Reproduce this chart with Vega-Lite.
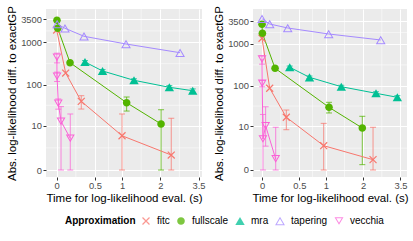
{
  "$schema": "https://vega.github.io/schema/vega-lite/v6.json",
  "padding": {"left": 6, "top": 5, "right": 3, "bottom": 0},
  "datasets": {
    "minx": [{"x": 0.2247}, {"x": 0.7321}, {"x": 1.4495}, {"x": 2.6742}],
    "miny": [{"y": 2.3165}, {"y": 32.33}, {"y": 317.0}, {"y": 1871.4}],
    "left": [
      {"approx": "fitc", "x": 0.0, "y": 1967, "lo": null, "hi": null},
      {"approx": "fitc", "x": 0.1, "y": 190, "lo": null, "hi": null},
      {"approx": "fitc", "x": 0.298, "y": 40.3, "lo": 26.2, "hi": 55},
      {"approx": "fitc", "x": 1.0, "y": 5.4, "lo": 0, "hi": 19.8},
      {"approx": "fitc", "x": 2.37, "y": 1.25, "lo": 0, "hi": 15.5},
      {"approx": "fullscale", "x": 0.003, "y": 3327, "lo": null, "hi": null},
      {"approx": "fullscale", "x": 0.011, "y": 2158, "lo": null, "hi": null},
      {"approx": "fullscale", "x": 0.152, "y": 334, "lo": null, "hi": null},
      {"approx": "fullscale", "x": 1.1, "y": 37.3, "lo": 23.4, "hi": 51.2},
      {"approx": "fullscale", "x": 2.025, "y": 11.1, "lo": 0, "hi": 25.2},
      {"approx": "mra", "x": 0.35, "y": 347, "lo": 320, "hi": 375},
      {"approx": "mra", "x": 0.626, "y": 213, "lo": 198, "hi": 230},
      {"approx": "mra", "x": 1.271, "y": 128, "lo": 118, "hi": 139},
      {"approx": "mra", "x": 2.303, "y": 87.3, "lo": 79, "hi": 96},
      {"approx": "mra", "x": 3.233, "y": 72.4, "lo": 64, "hi": 80},
      {"approx": "tapering", "x": 0.005, "y": 2723, "lo": null, "hi": null},
      {"approx": "tapering", "x": 0.092, "y": 2158, "lo": null, "hi": null},
      {"approx": "tapering", "x": 0.336, "y": 1399, "lo": null, "hi": null},
      {"approx": "tapering", "x": 1.086, "y": 921, "lo": null, "hi": null},
      {"approx": "tapering", "x": 2.7, "y": 574, "lo": null, "hi": null},
      {"approx": "vecchia", "x": 0.003, "y": 448, "lo": 330, "hi": 560},
      {"approx": "vecchia", "x": 0.004, "y": 159, "lo": 120, "hi": 200},
      {"approx": "vecchia", "x": 0.017, "y": 36.1, "lo": 26, "hi": 46},
      {"approx": "vecchia", "x": 0.047, "y": 13, "lo": 0, "hi": 30},
      {"approx": "vecchia", "x": 0.155, "y": 4.57, "lo": 0, "hi": 19.8}
    ],
    "right": [
      {"approx": "fitc", "x": 0.0, "y": 1367, "lo": null, "hi": null},
      {"approx": "fitc", "x": 0.087, "y": 87.2, "lo": null, "hi": null},
      {"approx": "fitc", "x": 0.302, "y": 17, "lo": 8.1, "hi": 25.8},
      {"approx": "fitc", "x": 0.954, "y": 2.79, "lo": 0, "hi": 11.9},
      {"approx": "fitc", "x": 2.34, "y": 0.76, "lo": 0, "hi": 9.4},
      {"approx": "fullscale", "x": 0.0, "y": 2943, "lo": null, "hi": null},
      {"approx": "fullscale", "x": 0.004, "y": 1797, "lo": null, "hi": null},
      {"approx": "fullscale", "x": 0.152, "y": 263, "lo": null, "hi": null},
      {"approx": "fullscale", "x": 1.07, "y": 30.1, "lo": 21.8, "hi": 39.9},
      {"approx": "fullscale", "x": 1.972, "y": 9, "lo": 0.34, "hi": 18},
      {"approx": "mra", "x": 0.351, "y": 278, "lo": 258, "hi": 298},
      {"approx": "mra", "x": 0.675, "y": 160, "lo": 149, "hi": 172},
      {"approx": "mra", "x": 1.366, "y": 95.2, "lo": 88, "hi": 103},
      {"approx": "mra", "x": 2.45, "y": 66, "lo": 60, "hi": 72},
      {"approx": "mra", "x": 3.35, "y": 52.8, "lo": 47, "hi": 58},
      {"approx": "tapering", "x": 0.0, "y": 4000, "lo": null, "hi": null},
      {"approx": "tapering", "x": 0.087, "y": 2991, "lo": null, "hi": null},
      {"approx": "tapering", "x": 0.322, "y": 2403, "lo": null, "hi": null},
      {"approx": "tapering", "x": 1.063, "y": 1729, "lo": null, "hi": null},
      {"approx": "tapering", "x": 2.63, "y": 1245, "lo": null, "hi": null},
      {"approx": "vecchia", "x": 0.0, "y": 438, "lo": 330, "hi": 520},
      {"approx": "vecchia", "x": 0.002, "y": 115, "lo": 95, "hi": 135},
      {"approx": "vecchia", "x": 0.01, "y": 4.47, "lo": 0, "hi": 20},
      {"approx": "vecchia", "x": 0.04, "y": 10.3, "lo": 2.7, "hi": 31},
      {"approx": "vecchia", "x": 0.16, "y": 0.83, "lo": 0, "hi": 9.4}
    ]
  },
  "spacing": 7,
  "resolve": {"scale": {"x": "independent", "y": "independent", "color": "shared", "shape": "shared"}},
  "hconcat": [
    {
      "width": 156,
      "height": 168,
      "data": {"name": "left"},
      "layer": [
        {
          "data": {"name": "minx"},
          "mark": {"type": "rule", "color": "#FFFFFF", "strokeWidth": 0.5},
          "encoding": {
            "x": {"field": "x", "type": "quantitative", "title": "Time for log-likelihood eval. (s)", "scale": {"type": "symlog", "constant": 1, "domain": [-0.12, 3.67], "nice": false, "zero": false}, "axis": {"values": [0, 0.5, 1, 2, 3.5], "format": ".2~g"}}
          }
        },
        {
          "data": {"name": "miny"},
          "mark": {"type": "rule", "color": "#FFFFFF", "strokeWidth": 0.5},
          "encoding": {
            "y": {"field": "y", "type": "quantitative", "title": "Abs. log-likelihood diff. to exactGP", "scale": {"type": "symlog", "constant": 1, "domain": [-0.46, 6137], "nice": false, "zero": false}, "axis": {"values": [0, 10, 100, 1000, 3500], "format": "d"}}
          }
        },
        {
          "transform": [{"filter": "datum.lo != null"}],
          "mark": {"type": "errorbar", "ticks": {"size": 6}, "thickness": 1, "opacity": 0.75},
          "encoding": {
            "x": {"field": "x", "type": "quantitative", "title": "Time for log-likelihood eval. (s)", "scale": {"type": "symlog", "constant": 1, "domain": [-0.12, 3.67], "nice": false, "zero": false}, "axis": {"values": [0, 0.5, 1, 2, 3.5], "format": ".2~g"}},
            "y": {"field": "lo", "type": "quantitative", "title": "Abs. log-likelihood diff. to exactGP", "scale": {"type": "symlog", "constant": 1, "domain": [-0.46, 6137], "nice": false, "zero": false}, "axis": {"values": [0, 10, 100, 1000, 3500], "format": "d"}},
            "y2": {"field": "hi"},
            "color": {"field": "approx", "type": "nominal", "title": "Approximation", "scale": {"domain": ["fitc", "fullscale", "mra", "tapering", "vecchia"], "range": ["#F8766D", "#53B400", "#00C094", "#A58AFF", "#FB61D7"]}}
          }
        },
        {
          "mark": {"type": "line", "strokeWidth": 1},
          "encoding": {
            "x": {"field": "x", "type": "quantitative", "title": "Time for log-likelihood eval. (s)", "scale": {"type": "symlog", "constant": 1, "domain": [-0.12, 3.67], "nice": false, "zero": false}, "axis": {"values": [0, 0.5, 1, 2, 3.5], "format": ".2~g"}},
            "y": {"field": "y", "type": "quantitative", "title": "Abs. log-likelihood diff. to exactGP", "scale": {"type": "symlog", "constant": 1, "domain": [-0.46, 6137], "nice": false, "zero": false}, "axis": {"values": [0, 10, 100, 1000, 3500], "format": "d"}},
            "color": {"field": "approx", "type": "nominal", "title": "Approximation", "scale": {"domain": ["fitc", "fullscale", "mra", "tapering", "vecchia"], "range": ["#F8766D", "#53B400", "#00C094", "#A58AFF", "#FB61D7"]}}
          }
        },
        {
          "mark": {"type": "point", "filled": true, "opacity": 1, "size": 80},
          "encoding": {
            "x": {"field": "x", "type": "quantitative", "title": "Time for log-likelihood eval. (s)", "scale": {"type": "symlog", "constant": 1, "domain": [-0.12, 3.67], "nice": false, "zero": false}, "axis": {"values": [0, 0.5, 1, 2, 3.5], "format": ".2~g"}},
            "y": {"field": "y", "type": "quantitative", "title": "Abs. log-likelihood diff. to exactGP", "scale": {"type": "symlog", "constant": 1, "domain": [-0.46, 6137], "nice": false, "zero": false}, "axis": {"values": [0, 10, 100, 1000, 3500], "format": "d"}},
            "color": {"field": "approx", "type": "nominal", "title": "Approximation", "scale": {"domain": ["fitc", "fullscale", "mra", "tapering", "vecchia"], "range": ["#F8766D", "#53B400", "#00C094", "#A58AFF", "#FB61D7"]}},
            "shape": {"field": "approx", "type": "nominal", "title": "Approximation", "scale": {"domain": ["fitc", "fullscale", "mra", "tapering", "vecchia"], "range": ["M-0.875,-0.685L0.685,0.875L0.875,0.685L-0.685,-0.875ZM-0.685,0.875L0.875,-0.685L0.685,-0.875L-0.875,0.685Z", "M-0.85,0A0.85,0.85,0,1,0,0.85,0A0.85,0.85,0,1,0,-0.85,0Z", "M0,-0.91L1.05,0.91L-1.05,0.91Z", "M0,-0.95L1.1,0.95L-1.1,0.95ZM0,-0.503L-0.712,0.727L0.712,0.727Z", "M-1,-0.866L1,-0.866L0,0.866ZM-0.612,-0.642L0,0.418L0.612,-0.642Z"]}}
          }
        }
      ]
    },
    {
      "width": 154,
      "height": 168,
      "data": {"name": "right"},
      "layer": [
        {
          "data": {"name": "minx"},
          "mark": {"type": "rule", "color": "#FFFFFF", "strokeWidth": 0.5},
          "encoding": {
            "x": {"field": "x", "type": "quantitative", "title": "Time for log-likelihood eval. (s)", "scale": {"type": "symlog", "constant": 1, "domain": [-0.103, 3.83], "nice": false, "zero": false}, "axis": {"values": [0, 0.5, 1, 2, 3.5], "format": ".2~g"}}
          }
        },
        {
          "data": {"name": "miny"},
          "mark": {"type": "rule", "color": "#FFFFFF", "strokeWidth": 0.5},
          "encoding": {
            "y": {"field": "y", "type": "quantitative", "title": "Abs. log-likelihood diff. to exactGP", "scale": {"type": "symlog", "constant": 1, "domain": [-0.468, 6810], "nice": false, "zero": false}, "axis": {"values": [0, 10, 100, 1000, 3500], "format": "d"}}
          }
        },
        {
          "transform": [{"filter": "datum.lo != null"}],
          "mark": {"type": "errorbar", "ticks": {"size": 6}, "thickness": 1, "opacity": 0.75},
          "encoding": {
            "x": {"field": "x", "type": "quantitative", "title": "Time for log-likelihood eval. (s)", "scale": {"type": "symlog", "constant": 1, "domain": [-0.103, 3.83], "nice": false, "zero": false}, "axis": {"values": [0, 0.5, 1, 2, 3.5], "format": ".2~g"}},
            "y": {"field": "lo", "type": "quantitative", "title": "Abs. log-likelihood diff. to exactGP", "scale": {"type": "symlog", "constant": 1, "domain": [-0.468, 6810], "nice": false, "zero": false}, "axis": {"values": [0, 10, 100, 1000, 3500], "format": "d"}},
            "y2": {"field": "hi"},
            "color": {"field": "approx", "type": "nominal", "title": "Approximation", "scale": {"domain": ["fitc", "fullscale", "mra", "tapering", "vecchia"], "range": ["#F8766D", "#53B400", "#00C094", "#A58AFF", "#FB61D7"]}}
          }
        },
        {
          "mark": {"type": "line", "strokeWidth": 1},
          "encoding": {
            "x": {"field": "x", "type": "quantitative", "title": "Time for log-likelihood eval. (s)", "scale": {"type": "symlog", "constant": 1, "domain": [-0.103, 3.83], "nice": false, "zero": false}, "axis": {"values": [0, 0.5, 1, 2, 3.5], "format": ".2~g"}},
            "y": {"field": "y", "type": "quantitative", "title": "Abs. log-likelihood diff. to exactGP", "scale": {"type": "symlog", "constant": 1, "domain": [-0.468, 6810], "nice": false, "zero": false}, "axis": {"values": [0, 10, 100, 1000, 3500], "format": "d"}},
            "color": {"field": "approx", "type": "nominal", "title": "Approximation", "scale": {"domain": ["fitc", "fullscale", "mra", "tapering", "vecchia"], "range": ["#F8766D", "#53B400", "#00C094", "#A58AFF", "#FB61D7"]}}
          }
        },
        {
          "mark": {"type": "point", "filled": true, "opacity": 1, "size": 80},
          "encoding": {
            "x": {"field": "x", "type": "quantitative", "title": "Time for log-likelihood eval. (s)", "scale": {"type": "symlog", "constant": 1, "domain": [-0.103, 3.83], "nice": false, "zero": false}, "axis": {"values": [0, 0.5, 1, 2, 3.5], "format": ".2~g"}},
            "y": {"field": "y", "type": "quantitative", "title": "Abs. log-likelihood diff. to exactGP", "scale": {"type": "symlog", "constant": 1, "domain": [-0.468, 6810], "nice": false, "zero": false}, "axis": {"values": [0, 10, 100, 1000, 3500], "format": "d"}},
            "color": {"field": "approx", "type": "nominal", "title": "Approximation", "scale": {"domain": ["fitc", "fullscale", "mra", "tapering", "vecchia"], "range": ["#F8766D", "#53B400", "#00C094", "#A58AFF", "#FB61D7"]}},
            "shape": {"field": "approx", "type": "nominal", "title": "Approximation", "scale": {"domain": ["fitc", "fullscale", "mra", "tapering", "vecchia"], "range": ["M-0.875,-0.685L0.685,0.875L0.875,0.685L-0.685,-0.875ZM-0.685,0.875L0.875,-0.685L0.685,-0.875L-0.875,0.685Z", "M-0.85,0A0.85,0.85,0,1,0,0.85,0A0.85,0.85,0,1,0,-0.85,0Z", "M0,-0.91L1.05,0.91L-1.05,0.91Z", "M0,-0.95L1.1,0.95L-1.1,0.95ZM0,-0.503L-0.712,0.727L0.712,0.727Z", "M-1,-0.866L1,-0.866L0,0.866ZM-0.612,-0.642L0,0.418L0.612,-0.642Z"]}}
          }
        }
      ]
    }
  ],
  "config": {
    "background": "#FFFFFF",
    "font": "Liberation Sans",
    "view": {"fill": "#EBEBEB", "stroke": null},
    "axis": {"grid": true, "gridColor": "#FFFFFF", "gridWidth": 1, "domain": false, "tickColor": "#333333", "tickSize": 3, "tickWidth": 1, "labelColor": "#4D4D4D", "labelFontSize": 9.4, "labelPadding": 1.5, "labelFlush": false, "labelOverlap": false, "titleFontSize": 11.5, "titleFontWeight": "normal", "titleColor": "#000000", "titlePadding": 3},
    "legend": {"orient": "none", "legendX": 19, "legendY": 207, "direction": "horizontal", "titleOrient": "left", "titlePadding": 5, "titleFontSize": 10, "titleFontWeight": "bold", "titleColor": "#000000", "labelFontSize": 10, "labelColor": "#000000", "symbolSize": 80, "symbolStrokeWidth": 0, "columnPadding": 6, "labelOffset": 6}
  }
}
